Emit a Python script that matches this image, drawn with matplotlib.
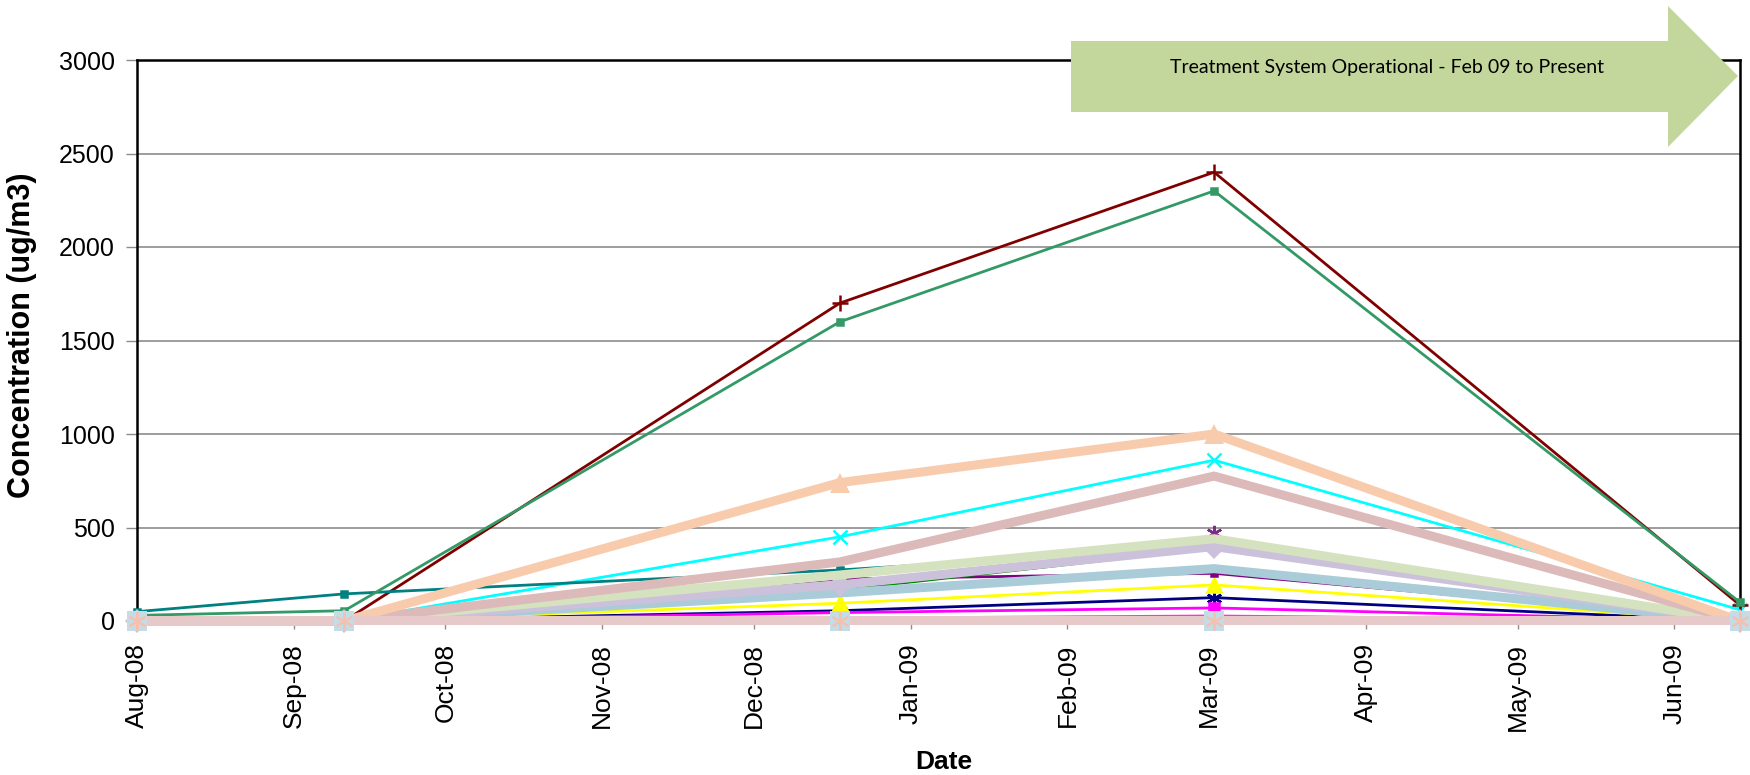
import numpy as np
import matplotlib
matplotlib.use('Agg')
import matplotlib.pyplot as plt
import matplotlib.dates as mdates
from matplotlib.patches import Polygon
from datetime import datetime

plt.rcParams['font.family'] = ['Liberation Sans', 'DejaVu Sans']

# ============================================================
# Data
# ============================================================
dates = [datetime(2008, 8, 1), datetime(2008, 9, 11), datetime(2008, 12, 18),
         datetime(2009, 3, 2), datetime(2009, 6, 14)]
nan = np.nan

navy      = [0, 0, 55, 125, 0]
magenta   = [0, 0, 45, 70, 0]
pink      = [0, 0, 15, 27, 0]
yellow    = [0, 0, 95, 193, 0]
cyan      = [0, 0, 450, 860, 60]
purple    = [0, 0, 225, 255, 0]
darkred   = [nan, 0, 1700, 2400, 85]
teal      = [50, 145, 273, 395, 20]
darkgreen = [0, 0, 166, 390, 0]
seagreen  = [30, 55, 1600, 2300, 100]
violet    = [nan, nan, nan, 470, nan]
lightblue = [0, 0, 150, 280, 0]
lavender  = [0, 0, 193, 398, 0]
sage      = [0, 0, 246, 440, 0]
dustyrose = [0, 0, 316, 775, 0]
peach     = [0, 0, 740, 1000, 0]
blush     = [5, 5, 5, 5, 5]
baseline  = [0, 0, 0, 0, 0]

month_ticks = [datetime(2008 + (7 + i) // 12, (7 + i) % 12 + 1, 1) for i in range(11)]

# ============================================================
# Figure
# ============================================================
W, H = 1750, 775
fig = plt.figure(figsize=(W / 100, H / 100), dpi=100)
ax = fig.add_axes([137 / W, 1 - 621 / H, (1740 - 137) / W, (621 - 60) / H])

thin = [
    (navy, '#000080', (6, 2, 0), 11),
    (magenta, '#FF00FF', 's', 7),
    (pink, '#FF33CC', None, 0),
    (yellow, '#FFFF00', '^', 10),
    (cyan, '#00FFFF', 'x', 10),
    (purple, '#800080', 's', 5),
    (darkred, '#800000', '+', 12),
    (teal, '#008080', 's', 5),
    (darkgreen, '#008000', 's', 3),
    (seagreen, '#339966', 's', 4),
    (violet, '#7F2A8A', (6, 2, 0), 11),
]
for vals, c, m, ms in thin:
    ax.plot(dates, vals, color=c, lw=2, marker=m, ms=ms, mew=1.8,
            zorder=3, clip_on=False)

thick = [
    (lightblue, '#A9CCD8', None, 0),
    (lavender, '#CCC1DA', 'D', 12),
    (sage, '#D5E2BF', None, 0),
    (dustyrose, '#DDBABA', None, 0),
    (peach, '#F8CBAD', '^', 14),
    (blush, '#E7C9C9', None, 0),
]
for vals, c, m, ms in thick:
    ax.plot(dates, vals, color=c, lw=6.5, marker=m, ms=ms, mew=0,
            zorder=4, clip_on=False, solid_joinstyle='miter')

ax.plot(dates, baseline, ls='none', marker='s', ms=14, color='#C5DCE6',
        mew=0, zorder=5, clip_on=False)
ax.plot(dates, baseline, ls='none', marker=(6, 2, 0), ms=13, color='#F4C0B0',
        mew=1.5, zorder=6, clip_on=False)

ax.set_xlim(dates[0], dates[-1])
ax.set_ylim(0, 3000)
ax.set_yticks(np.arange(0, 3001, 500))
ax.set_xticks(month_ticks)
ax.xaxis.set_major_formatter(mdates.DateFormatter('%b-%y'))
ax.grid(axis='y', color='#8C8C8C', lw=1.2, zorder=1)
ax.set_axisbelow(True)

for s in ax.spines.values():
    s.set_color('black'); s.set_linewidth(1.8)
ax.tick_params(axis='y', direction='out', length=8, width=1, color='#8C8C8C',
               labelsize=18, pad=8)
ax.tick_params(axis='x', direction='out', length=6, width=1, color='#8C8C8C',
               labelsize=19, pad=10, labelrotation=90)

fig.text(22 / W, 1 - 335 / H, 'Concentration (ug/m3)', rotation=90,
         ha='center', va='center', fontsize=22, fontweight='bold')
fig.text(944 / W, 1 - 762 / H, 'Date', ha='center', va='center',
         fontsize=19, fontweight='bold')

# treatment arrow
pts = [(1071, 41), (1668, 41), (1668, 6), (1738, 76), (1668, 147),
       (1668, 112), (1071, 112)]
arrow = Polygon([(x / W, 1 - y / H) for x, y in pts], closed=True,
                transform=fig.transFigure, facecolor='#C3D69B',
                edgecolor='none', zorder=10)
fig.patches.append(arrow)
fig.text(1387 / W, 1 - 68 / H, 'Treatment System Operational - Feb 09 to Present',
         ha='center', va='center', fontsize=14, family=['Lato', 'DejaVu Sans'],
         zorder=11)

fig.savefig('out.png', dpi=100, facecolor='white')
